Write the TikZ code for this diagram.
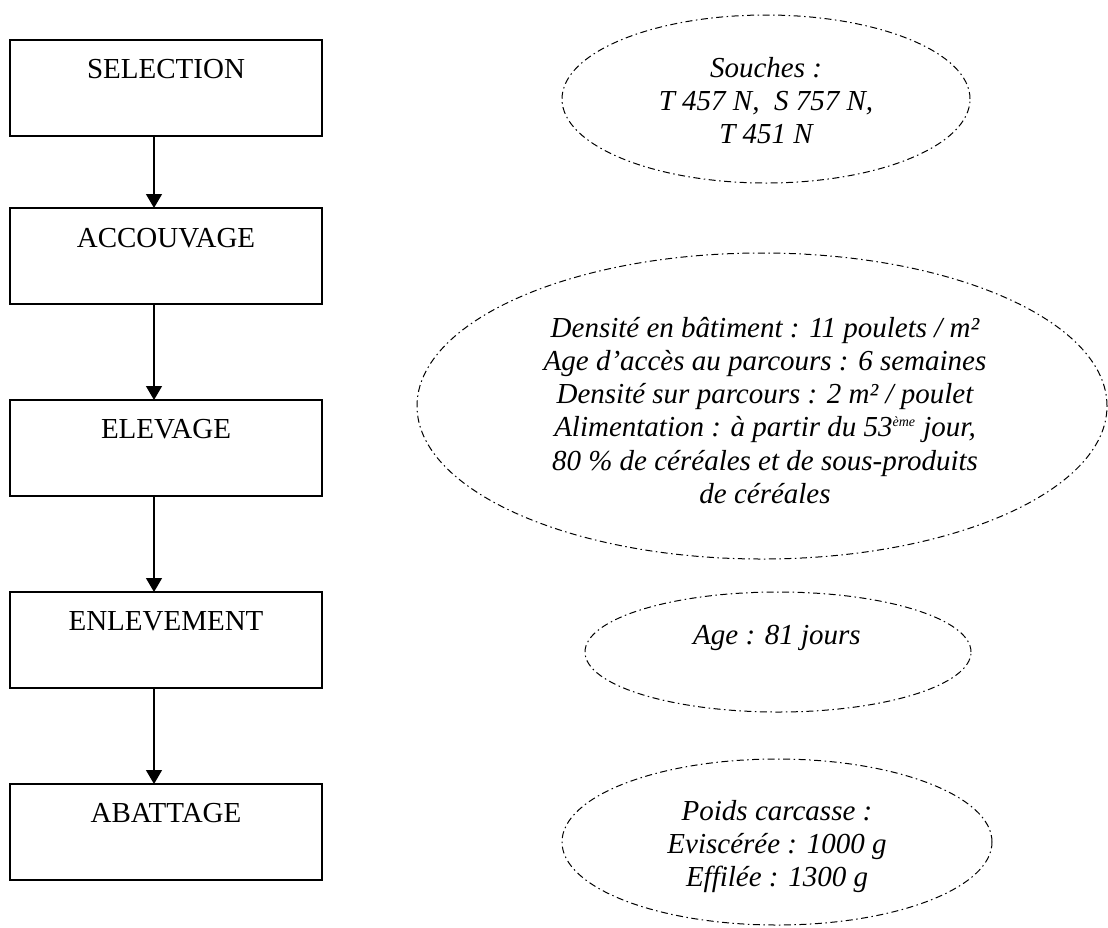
\documentclass[tikz,border=0pt]{standalone}
\usepackage{fontspec}
\setmainfont{Liberation Serif}
\usetikzlibrary{arrows.meta,shapes.geometric}
\newcommand{\mylines}[1]{\begin{tabular}[t]{@{}c@{}}#1\end{tabular}}
\begin{document}
\begin{tikzpicture}[x=0.5pt,y=-0.5pt,
  stepbox/.style={draw,line width=0.65pt,minimum width=156pt,minimum height=48pt,inner sep=0pt,outer sep=0pt},
  steplabel/.style={anchor=base,inner sep=0pt,font=\fontsize{14.5pt}{16.65pt}\selectfont},
  note/.style={draw,ellipse,line width=0.5pt,inner sep=0pt,outer sep=0pt,
    dash pattern=on 3.5pt off 1.75pt on 0.75pt off 1.75pt},
  notetext/.style={anchor=base,inner sep=0pt,font=\fontsize{14.5pt}{16.65pt}\selectfont\itshape},
  arr/.style={line width=0.65pt,-{Triangle[width=8pt,length=7pt]}}]
\useasboundingbox (0,0) rectangle (1108,927);
% boxes
\node[stepbox] (b1) at (166,88) {};
\node[stepbox] (b2) at (166,256) {};
\node[stepbox] (b3) at (166,448) {};
\node[stepbox] (b4) at (166,640) {};
\node[stepbox] (b5) at (166,832) {};
\node[steplabel] (l1) at (166,78) {SELECTION};
\node[steplabel] (l2) at (166,247) {ACCOUVAGE};
\node[steplabel] (l3) at (166,438) {ELEVAGE};
\node[steplabel] (l4) at (166,630) {ENLEVEMENT};
\node[steplabel] (l5) at (166,822) {ABATTAGE};
% arrows
\coordinate (ax) at (154,0);
\draw[arr] (b1.south -| ax) -- (b2.north -| ax);
\draw[arr] (b2.south -| ax) -- (b3.north -| ax);
\draw[arr] (b3.south -| ax) -- (b4.north -| ax);
\draw[arr] (b4.south -| ax) -- (b5.north -| ax);
% ellipses
\node[note,minimum width=204pt,minimum height=84pt] (e1) at (766,99) {};
\node[note,minimum width=345pt,minimum height=153pt] (e2) at (762,406) {};
\node[note,minimum width=193pt,minimum height=60pt] (e3) at (778,652) {};
\node[note,minimum width=215pt,minimum height=83pt] (e4) at (777,842) {};
\node[notetext] (t1) at (766,77) {\mylines{Souches :\\T 457 N,\ \ S 757 N,\\T 451 N}};
\node[notetext] (t2) at (765,337) {\mylines{Densité en bâtiment : 11 poulets / m²\\Age d’accès au parcours : 6 semaines\\Densité sur parcours : 2 m² / poulet\\Alimentation : à partir du 53\textsuperscript{\scriptsize ème} jour,\\80 \% de céréales et de sous-produits\\de céréales}};
\node[notetext] (t3) at (777,644) {Age : 81 jours};
\node[notetext] (t4) at (777,820) {\mylines{Poids carcasse :\\Eviscérée : 1000 g\\Effilée : 1300 g}};
\end{tikzpicture}
\end{document}
